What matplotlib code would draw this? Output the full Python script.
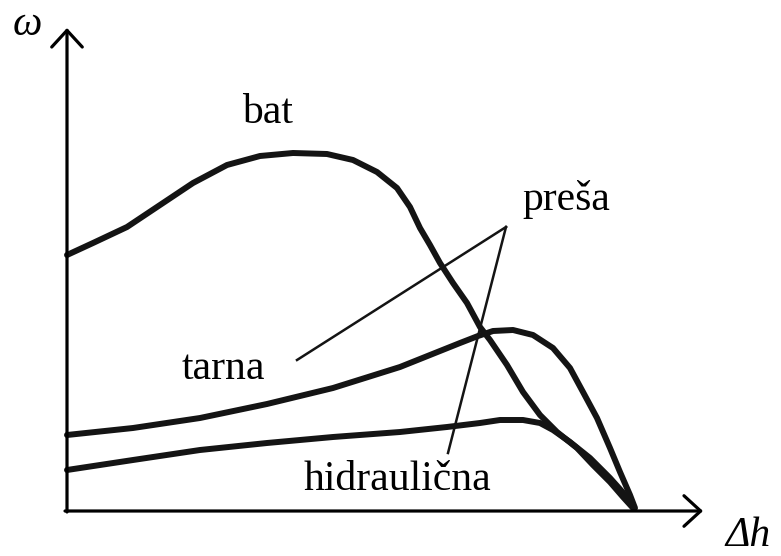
import matplotlib.pyplot as plt

# curves (Δh, ω) in arbitrary units, origin at the axes corner
bat_x = [0, 26, 60, 93, 126, 160, 193, 226, 260, 286, 310, 330, 343, 353, 363, 373,
         386, 400, 413, 423, 440, 456, 473, 490, 510, 526, 543, 556, 566]
bat_y = [256, 268, 284, 306, 328, 346, 355, 358, 357, 351, 339, 323, 304, 283, 266, 248,
         228, 208, 184, 171, 146, 119, 96, 79, 63, 46, 29, 14, 3]

tarna_x = [0, 66, 133, 200, 266, 333, 363, 393, 411, 426, 446, 466, 486, 503, 516,
           530, 543, 553, 563, 568]
tarna_y = [76, 83, 93, 107, 123, 144, 156, 168, 175, 180, 181, 176, 163, 143, 119,
           93, 63, 39, 16, 3]

hidr_x = [0, 66, 133, 200, 266, 333, 380, 413, 433, 456, 473, 486, 503, 523, 543, 560, 566]
hidr_y = [41, 51, 61, 68, 74, 79, 84, 88, 91, 91, 88, 81, 69, 53, 33, 14, 4]

# "preša" pointer: apex and the two ends
pointer_apex = (439, 284)
pointer_ends = [(230, 151), (381, 58)]

labels = ['bat', 'preša', 'tarna', 'hidraulična']
label_pos = [(200, 388), (499, 301), (156, 132), (330, 21)]

x_max, y_max = 636, 483


def main():
    fig = plt.figure(figsize=(7.81, 5.56), dpi=100)
    ax = fig.add_axes([0, 0, 1, 1])
    ax.set_xlim(-67, 714)
    ax.set_ylim(-45, 511)
    ax.axis('off')

    # axes with open arrow heads
    arrow = dict(arrowstyle='->,head_length=0.6,head_width=0.55', lw=2.3,
                 color='black', mutation_scale=20, shrinkA=0, shrinkB=0)
    ax.annotate('', xy=(x_max, 0), xytext=(-2, 0), arrowprops=arrow)
    ax.annotate('', xy=(0, y_max), xytext=(0, -1), arrowprops=arrow)

    ax.text(-40, 486, 'ω', fontsize=30, family='Liberation Serif', style='italic',
            ha='center', va='center')
    ax.text(681, -25, 'Δh', fontsize=30, family='Liberation Serif', style='italic',
            ha='center', va='center')

    style = dict(color='#141414', lw=4.3, solid_capstyle='round', solid_joinstyle='round')
    ax.plot(bat_x, bat_y, **style)
    ax.plot(tarna_x, tarna_y, **style)
    ax.plot(hidr_x, hidr_y, **style)

    for ex, ey in pointer_ends:
        ax.plot([pointer_apex[0], ex], [pointer_apex[1], ey], color='#141414', lw=1.8)

    for txt, (tx, ty) in zip(labels, label_pos):
        ax.text(tx, ty, txt, fontsize=30, family='Liberation Serif',
                ha='center', va='baseline')

    fig.savefig('out.png', dpi=100)


if __name__ == "__main__":
    main()
